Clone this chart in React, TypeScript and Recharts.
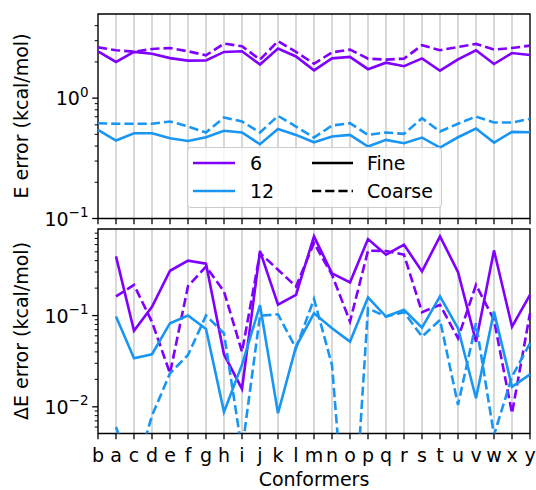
import React from 'react';
import { LineChart, Line, XAxis, YAxis, CartesianGrid, ReferenceArea, Legend } from 'recharts';

const conformers = ['b', 'a', 'c', 'd', 'e', 'f', 'g', 'h', 'i', 'j', 'k', 'l', 'm', 'n', 'o', 'p', 'q', 'r', 's', 't', 'u', 'v', 'w', 'x', 'y'];

// Top panel: E error (kcal/mol)
const eFine6 = [2.45, 2.0, 2.42, 2.34, 2.15, 2.05, 2.06, 2.42, 2.45, 1.9, 2.58, 2.22, 1.7, 2.14, 2.2, 1.74, 1.97, 1.84, 2.14, 1.69, 2.1, 2.5, 1.92, 2.37, 2.28];
const eCoarse6 = [2.64, 2.5, 2.43, 2.56, 2.61, 2.45, 2.27, 2.84, 2.7, 2.09, 2.97, 2.42, 1.93, 2.4, 2.53, 2.13, 2.09, 2.13, 2.75, 2.5, 2.66, 2.82, 2.53, 2.61, 2.73];
const eFine12 = [0.545, 0.444, 0.511, 0.511, 0.464, 0.441, 0.473, 0.535, 0.518, 0.414, 0.555, 0.495, 0.43, 0.48, 0.495, 0.396, 0.45, 0.422, 0.47, 0.388, 0.473, 0.559, 0.427, 0.524, 0.521];
const eCoarse12 = [0.619, 0.613, 0.613, 0.613, 0.64, 0.581, 0.518, 0.69, 0.64, 0.518, 0.712, 0.581, 0.47, 0.592, 0.619, 0.495, 0.518, 0.505, 0.681, 0.528, 0.613, 0.703, 0.627, 0.627, 0.673];

// Bottom panel: ΔE error (kcal/mol), relative to conformer b
const dFine6 = [null, 0.445, 0.068, 0.125, 0.31, 0.4, 0.37, 0.0375, 0.0157, 0.51, 0.132, 0.169, 0.738, 0.29, 0.231, 0.69, 0.465, 0.598, 0.305, 0.738, 0.3, 0.0518, 0.518, 0.0757, 0.169];
const dCoarse6 = [null, 0.162, 0.217, 0.085, 0.0233, 0.21, 0.345, 0.184, 0.04, 0.485, 0.318, 0.208, 0.625, 0.28, 0.086, 0.514, 0.51, 0.465, 0.109, 0.131, 0.0565, 0.217, 0.0897, 0.0085, 0.106];
const dFine12 = [null, 0.0975, 0.034, 0.0377, 0.0825, 0.1, 0.0714, 0.0088, 0.029, 0.13, 0.0085, 0.0457, 0.106, 0.0726, 0.0518, 0.158, 0.0975, 0.1156, 0.0738, 0.162, 0.0726, 0.0124, 0.1106, 0.0166, 0.0227];
const dCoarse12 = [null, 0.006, 0.0017, 0.008, 0.0233, 0.037, 0.1, 0.064, 0.0033, 0.1, 0.103, 0.0438, 0.152, 0.0287, 0.0001, 0.12, 0.0975, 0.109, 0.0588, 0.0897, 0.0105, 0.0824, 0.0049, 0.0214, 0.0497];

const eDomain = [0.1, 5.0];
const dDomain = [0.0051, 0.889];
const eMajor = [0.1, 1];
const eMinor = [0.2, 0.3, 0.4, 0.5, 0.6, 0.7, 0.8, 0.9, 2, 3, 4];
const dMajor = [0.01, 0.1];
const dMinor = [0.006, 0.007, 0.008, 0.009, 0.02, 0.03, 0.04, 0.05, 0.06, 0.07, 0.08, 0.09, 0.2, 0.3, 0.4, 0.5, 0.6, 0.7, 0.8];

const sizeLabels = ['6', '12'];
const styleLabels = ['Fine', 'Coarse'];

const PURPLE = '#8000ff';
const BLUE = '#1996f3';
const FONT = '"DejaVu Sans", sans-serif';
const FS = 19;
const LW = 2.6;
const DASH = '9.2 4';

const topData = conformers.map((c, i) => ({ name: c, f6: eFine6[i], c6: eCoarse6[i], f12: eFine12[i], c12: eCoarse12[i] }));
const botData = conformers.map((c, i) => ({ name: c, f6: dFine6[i], c6: dCoarse6[i], f12: dFine12[i], c12: dCoarse12[i] }));

const LogTick = (props: any) => {
  const { x, y, payload, majors } = props;
  const v = payload.value;
  const isMajor = majors.some((m: number) => Math.abs(m - v) < 1e-9);
  const exp = Math.round(Math.log10(v));
  return (
    <g>
      <line x1={x} x2={x - (isMajor ? 5.8 : 3.3)} y1={y} y2={y} stroke="#000" strokeWidth={isMajor ? 1.3 : 1} />
      {isMajor && (
        <text x={x - 9.5} y={y + 7} textAnchor="end" fontSize={FS} fontFamily={FONT} fill="#000">
          10
          <tspan dy={-8.5} fontSize={13.5}>{exp < 0 ? '\u2212' + -exp : String(exp)}</tspan>
        </text>
      )}
    </g>
  );
};

const XTick = (props: any) => {
  const { x, y, payload, showLabel } = props;
  return (
    <g>
      <line x1={x} x2={x} y1={y} y2={y + 5.8} stroke="#000" strokeWidth={1.3} />
      {showLabel && (
        <text x={x} y={y + 28} textAnchor="middle" fontSize={FS} fontFamily={FONT} fill="#000">
          {payload.value}
        </text>
      )}
    </g>
  );
};

const LegendBox = () => (
  <div
    style={{
      width: 255,
      height: 61,
      boxSizing: 'border-box',
      border: '1px solid #cccccc',
      borderRadius: 4,
      background: 'rgba(255,255,255,0.8)',
    }}
  >
    <svg width={253} height={59} style={{ display: 'block' }}>
      {sizeLabels.map((s, i) => (
        <g key={s}>
          <line x1={5} x2={47} y1={15 + i * 28} y2={15 + i * 28} stroke={i === 0 ? PURPLE : BLUE} strokeWidth={LW} />
          <text x={62} y={22 + i * 28} fontSize={FS} fontFamily={FONT} fill="#000">{s}</text>
        </g>
      ))}
      {styleLabels.map((s, i) => (
        <g key={s}>
          <line x1={124} x2={165} y1={15 + i * 28} y2={15 + i * 28} stroke="#000" strokeWidth={LW} strokeDasharray={i === 0 ? undefined : DASH} />
          <text x={179} y={22 + i * 28} fontSize={FS} fontFamily={FONT} fill="#000">{s}</text>
        </g>
      ))}
    </svg>
  </div>
);

const series = (keyPrefix: string) => [
  <Line key={keyPrefix + 'f6'} type="linear" dataKey="f6" stroke={PURPLE} strokeWidth={LW} dot={false} isAnimationActive={false} connectNulls={false} />,
  <Line key={keyPrefix + 'c6'} type="linear" dataKey="c6" stroke={PURPLE} strokeWidth={LW} strokeDasharray={DASH} dot={false} isAnimationActive={false} connectNulls={false} />,
  <Line key={keyPrefix + 'f12'} type="linear" dataKey="f12" stroke={BLUE} strokeWidth={LW} dot={false} isAnimationActive={false} connectNulls={false} />,
  <Line key={keyPrefix + 'c12'} type="linear" dataKey="c12" stroke={BLUE} strokeWidth={LW} strokeDasharray={DASH} dot={false} isAnimationActive={false} connectNulls={false} />,
];

export default function App() {
  return (
    <div style={{ position: 'absolute', left: 0, top: 0, width: 536, height: 490, background: '#fff' }}>
      <div style={{ position: 'absolute', left: 0, top: 0 }}>
        <LineChart width={536} height={230} data={topData} margin={{ top: 14, right: 6, bottom: 0, left: 38 }}>
          <CartesianGrid horizontal={false} stroke="#c4c4c4" strokeWidth={1.3} />
          <XAxis
            dataKey="name"
            height={11.5}
            interval={0}
            tickSize={0}
            tickMargin={0}
            axisLine={false}
            tickLine={false}
            tick={(p: any) => <XTick {...p} showLabel={false} />}
          />
          <YAxis
            type="number"
            scale="log"
            domain={eDomain}
            allowDataOverflow
            width={60}
            ticks={[...eMajor, ...eMinor]}
            interval={0}
            tickSize={0}
            tickMargin={0}
            axisLine={false}
            tickLine={false}
            tick={(p: any) => <LogTick {...p} majors={eMajor} />}
          />
          {series('t')}
          <ReferenceArea x1="b" x2="y" y1={eDomain[0]} y2={eDomain[1]} fill="none" stroke="#000" strokeWidth={1.3} />
          <Legend
            layout="vertical"
            align="center"
            verticalAlign="middle"
            content={() => <LegendBox />}
            wrapperStyle={{ left: 187, top: 147, width: 255, height: 61 }}
          />
        </LineChart>
      </div>
      <div style={{ position: 'absolute', left: 0, top: 222 }}>
        <LineChart width={536} height={268} data={botData} margin={{ top: 7, right: 6, bottom: 0, left: 38 }}>
          <CartesianGrid horizontal={false} stroke="#c4c4c4" strokeWidth={1.3} />
          <XAxis
            dataKey="name"
            height={56.5}
            interval={0}
            tickSize={0}
            tickMargin={0}
            axisLine={false}
            tickLine={false}
            tick={(p: any) => <XTick {...p} showLabel />}
          />
          <YAxis
            type="number"
            scale="log"
            domain={dDomain}
            allowDataOverflow
            width={60}
            ticks={[...dMajor, ...dMinor]}
            interval={0}
            tickSize={0}
            tickMargin={0}
            axisLine={false}
            tickLine={false}
            tick={(p: any) => <LogTick {...p} majors={dMajor} />}
          />
          {series('b')}
          <ReferenceArea x1="b" x2="y" y1={dDomain[0]} y2={dDomain[1]} fill="none" stroke="#000" strokeWidth={1.3} />
        </LineChart>
      </div>
      <svg width={536} height={490} style={{ position: 'absolute', left: 0, top: 0, pointerEvents: 'none' }}>
        <text x={28} y={116} transform="rotate(-90, 28, 116)" textAnchor="middle" fontSize={FS} fontFamily={FONT} fill="#000">
          E error (kcal/mol)
        </text>
        <text x={28} y={331} transform="rotate(-90, 28, 331)" textAnchor="middle" fontSize={FS} fontFamily={FONT} fill="#000">
          ΔE error (kcal/mol)
        </text>
        <text x={314} y={486} textAnchor="middle" fontSize={FS} fontFamily={FONT} fill="#000">
          Conformers
        </text>
      </svg>
    </div>
  );
}
